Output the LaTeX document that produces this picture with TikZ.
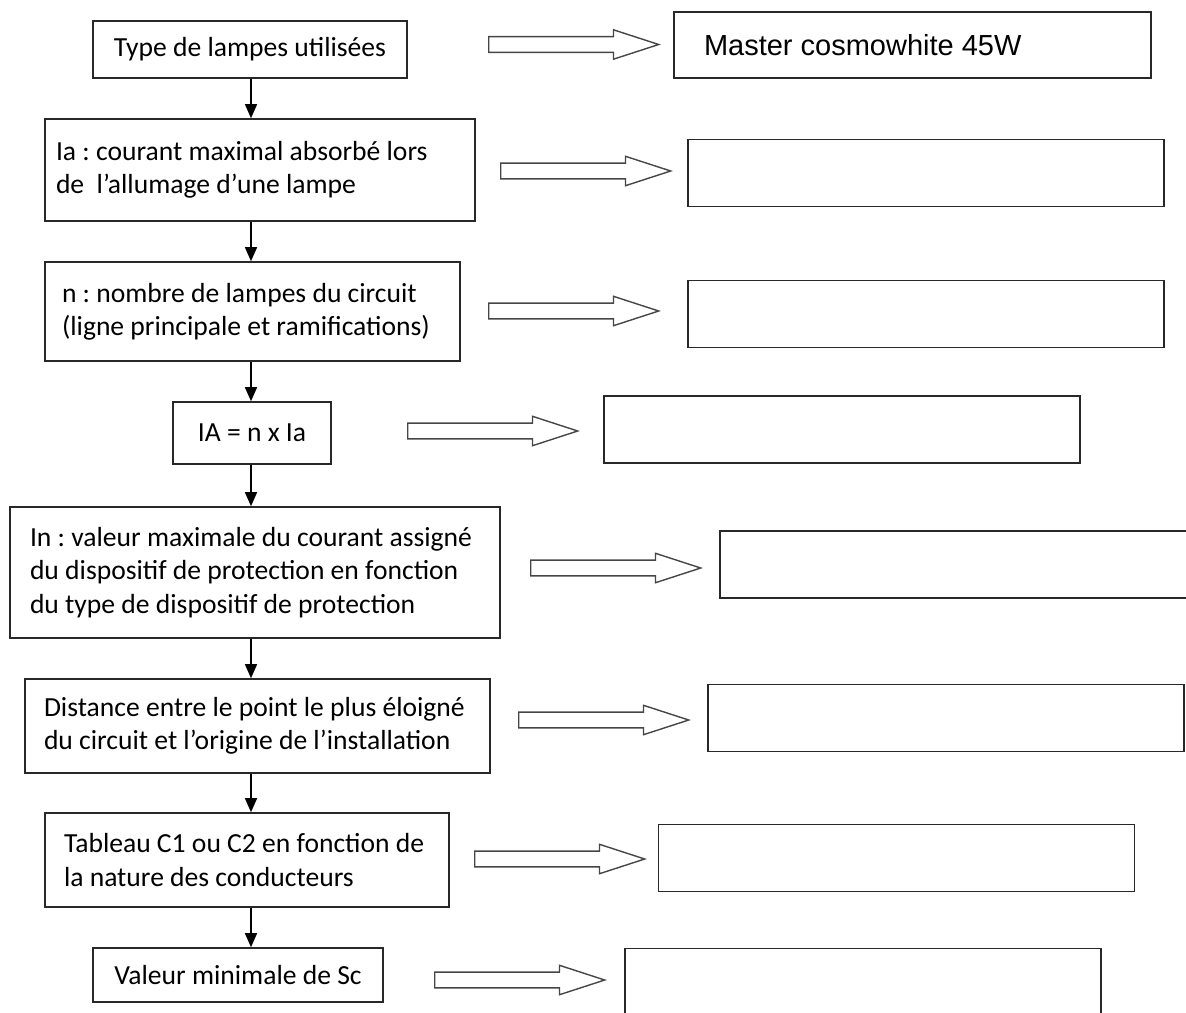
\documentclass[tikz,border=0pt]{standalone}
\usepackage{fontspec}
\setmainfont{Carlito}
\newfontfamily\arialfont{Liberation Sans}
\usepackage{tikz}
\usetikzlibrary{positioning,calc}
\usetikzlibrary{shapes.arrows,arrows.meta}
\definecolor{linegray}{RGB}{40, 40, 40}
\definecolor{hollowgray}{RGB}{70, 70, 70}
\frenchspacing

\begin{document}
\begin{tikzpicture}[x=0.5pt, y=-0.5pt,
stepnode/.style={rectangle, draw=linegray, fill=white, line width=0.8pt, align=flush left, inner ysep=0pt, font=\fontsize{13.8}{16.6}\selectfont},
answernode/.style={rectangle, draw=linegray, fill=white, line width=0.8pt, minimum width=238pt, minimum height=33.5pt},
hollow_arrow/.style={single arrow, draw=hollowgray, fill=white, line width=0.7pt, minimum height=85pt, inner xsep=0pt, inner ysep=3.6pt, single arrow head extend=3.4pt, single arrow tip angle=36, single arrow head indent=0pt, anchor=tail},
arrow/.style={-{Triangle[length=7pt,width=6pt]}, line width=0.7pt, draw=black}
]
\useasboundingbox (0,0) rectangle (1186,1012);

%Nodes
%Nodes steps
\node[stepnode, align=center, minimum width=157pt, minimum height=28.5pt, inner xsep=0pt]    (step_node_1) at (250,49.5) {Type de lampes utilisées};
\node[stepnode, minimum height=51pt, inner xsep=5.5pt, text width=204pt]                     (step_node_2) at (260,170) {Ia : courant maximal absorbé lors\\de\ \ l’allumage d’une lampe};
\node[stepnode, minimum height=49.5pt, inner xsep=8.5pt, text width=190.5pt]                 (step_node_3) at (252.5,311.5) {n : nombre de lampes du circuit\\(ligne principale et ramifications)};
\node[stepnode, align=center, minimum width=79pt, minimum height=31pt, inner xsep=0pt]       (step_node_4) at (252,433) {IA = n x Ia};
\node[stepnode, minimum height=65.5pt, inner xsep=10pt, text width=225pt]                    (step_node_5) at (255,572.5) {In : valeur maximale du courant assigné\\du dispositif de protection en fonction\\du type de dispositif de protection};
\node[stepnode, minimum height=47pt, inner xsep=9.5pt, text width=213.5pt]                   (step_node_6) at (257.5,726) {Distance entre le point le plus éloigné\\du circuit et l’origine de l’installation};
\node[stepnode, minimum height=47pt, inner xsep=9.5pt, text width=183pt]                     (step_node_7) at (247,860) {Tableau C1 ou C2 en fonction de\\la nature des conducteurs};
\node[stepnode, align=center, minimum width=145pt, minimum height=27pt, inner xsep=0pt]      (step_node_8) at (238,975) {Valeur minimale de Sc};

\coordinate (step_column) at (251,0);

%Nodes hollow arrows
\node[hollow_arrow] (hollow_arrow_1) at (488,44.5) {};
\node[hollow_arrow] (hollow_arrow_2) at (500,171) {};
\node[hollow_arrow] (hollow_arrow_3) at (488,311) {};
\node[hollow_arrow] (hollow_arrow_4) at (407,431) {};
\node[hollow_arrow] (hollow_arrow_5) at (530,568) {};
\node[hollow_arrow] (hollow_arrow_6) at (518,720) {};
\node[hollow_arrow] (hollow_arrow_7) at (474,859) {};
\node[hollow_arrow] (hollow_arrow_8) at (434,980) {};

%Nodes answers
\node[answernode, minimum width=238.5pt, minimum height=33pt, align=flush left, text width=208.5pt, inner xsep=15pt, font=\arialfont\fontsize{14.5}{17}\selectfont] (answer_node_1) at (912.5,45) {Master cosmowhite 45W};
\node[answernode] (answer_node_2) at (926,173) {};
\node[answernode] (answer_node_3) at (926,314) {};
\node[answernode] (answer_node_4) at (842,429.5) {};
\node[answernode] (answer_node_5) at (958,564.5) {};
\node[answernode] (answer_node_6) at (946,718) {};
\node[answernode] (answer_node_7) at (896.5,858) {};
\node[answernode] (answer_node_8) at (863,982) {};

%Arrow
%Arrow from step to step
\draw [arrow] (step_node_1.south -| step_column) -- (step_node_2.north -| step_column);
\draw [arrow] (step_node_2.south -| step_column) -- (step_node_3.north -| step_column);
\draw [arrow] (step_node_3.south -| step_column) -- (step_node_4.north -| step_column);
\draw [arrow] (step_node_4.south -| step_column) -- (step_node_5.north -| step_column);
\draw [arrow] (step_node_5.south -| step_column) -- (step_node_6.north -| step_column);
\draw [arrow] (step_node_6.south -| step_column) -- (step_node_7.north -| step_column);
\draw [arrow] (step_node_7.south -| step_column) -- (step_node_8.north -| step_column);

\end{tikzpicture}
\end{document}
